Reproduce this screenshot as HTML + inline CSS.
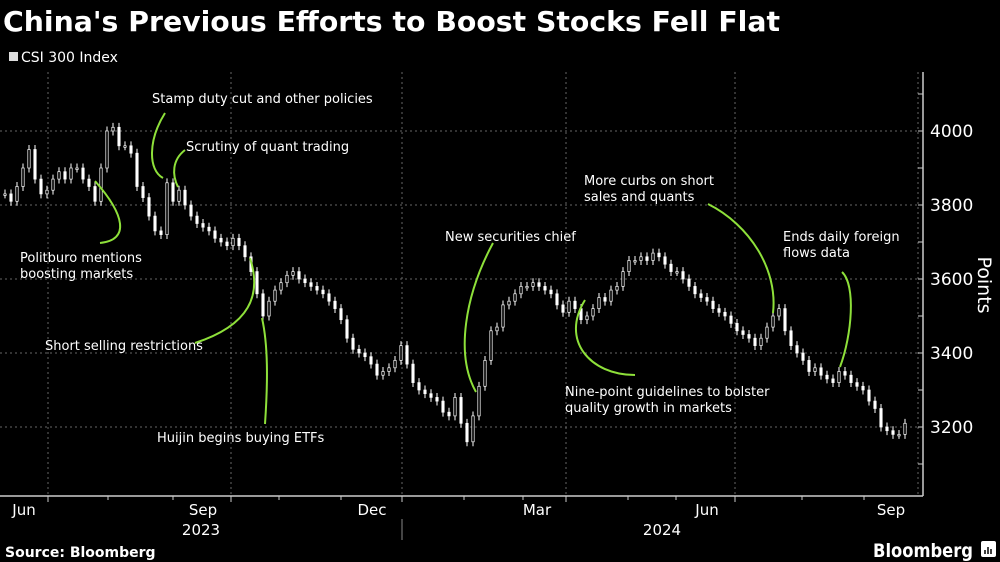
<!DOCTYPE html>
<html><head><meta charset="utf-8"><style>
html,body{margin:0;padding:0;background:#000;}
svg{display:block;}
text{font-family:"DejaVu Sans","Liberation Sans",sans-serif;fill:#fff;}
</style></head><body>
<svg id="chart" width="1000" height="562" viewBox="0 0 1000 562" xmlns="http://www.w3.org/2000/svg">
<rect width="1000" height="562" fill="#000"/>
<text x="3" y="31" font-size="28" font-weight="bold" textLength="777" lengthAdjust="spacingAndGlyphs">China's Previous Efforts to Boost Stocks Fell Flat</text>
<rect x="9" y="52" width="9" height="9" fill="#ddd"/>
<text x="21" y="62" font-size="14" fill="#ddd">CSI 300 Index</text>
<g id="grid"></g>
<g id="candles"></g>
<g id="axes"></g>
<text transform="translate(978,285) rotate(90)" font-size="19" text-anchor="middle">Points</text>
<g fill="none" stroke="#8ee03a" stroke-width="2">
<path d="M100,243 C130,240 125,215 95,181"/>
<path d="M165,113 C148,140 148,170 163,178"/>
<path d="M185,150 C172,160 172,175 178,187"/>
<path d="M195,343 C250,325 262,295 250,258"/>
<path d="M265,424 C268,380 268,345 262,318"/>
<path d="M493,243 C465,295 455,355 476,392"/>
<path d="M708,204 C750,225 778,270 773,313"/>
<path d="M635,375 C590,375 560,340 585,300"/>
<path d="M842,272 C856,285 852,335 840,367"/>
</g>
<g font-size="13">
<text x="20" y="262">Politburo mentions</text>
<text x="20" y="278">boosting markets</text>
<text x="152" y="103">Stamp duty cut and other policies</text>
<text x="186" y="151">Scrutiny of quant trading</text>
<text x="45" y="350">Short selling restrictions</text>
<text x="157" y="442">Huijin begins buying ETFs</text>
<text x="445" y="241">New securities chief</text>
<text x="584" y="185">More curbs on short</text>
<text x="584" y="201">sales and quants</text>
<text x="565" y="396">Nine-point guidelines to bolster</text>
<text x="565" y="412">quality growth in markets</text>
<text x="783" y="241">Ends daily foreign</text>
<text x="783" y="257">flows data</text>
</g>
<text x="5" y="557" font-size="14" font-weight="bold">Source: Bloomberg</text>
<text x="873" y="557" font-size="19" font-weight="bold" font-family="Liberation Sans, sans-serif" textLength="100" lengthAdjust="spacingAndGlyphs">Bloomberg</text>
<rect x="981" y="541" width="15" height="16" rx="2" fill="#fff"/>
<path d="M985,554 v-4 M988,554 v-7 M991,554 v-5" stroke="#000" stroke-width="1.5"/>
</svg>
<script>
const closes = [3830,3810,3850,3900,3950,3870,3830,3840,3870,3890,3870,3900,3900,3870,3850,3810,3900,4000,4010,3960,3960,3940,3850,3820,3770,3730,3720,3860,3810,3840,3800,3770,3750,3740,3730,3710,3700,3690,3710,3690,3660,3620,3560,3500,3540,3570,3590,3610,3620,3600,3590,3580,3570,3560,3540,3520,3490,3440,3410,3400,3390,3370,3340,3350,3360,3380,3420,3370,3320,3300,3290,3280,3270,3240,3230,3280,3210,3160,3230,3310,3380,3460,3470,3530,3540,3560,3580,3580,3590,3580,3570,3560,3530,3510,3540,3520,3490,3500,3520,3550,3540,3570,3580,3620,3650,3650,3660,3650,3670,3660,3640,3620,3620,3600,3580,3560,3550,3540,3520,3510,3500,3480,3460,3450,3440,3420,3440,3470,3500,3520,3460,3420,3400,3380,3350,3360,3340,3330,3320,3350,3340,3320,3310,3300,3270,3250,3200,3190,3180,3180,3210];
const yTicks = [3200,3400,3600,3800,4000];
const yTickLabels = ["3200","3400","3600","3800","4000"];
const monthLabels = ["Jun","Sep","Dec","Mar","Jun","Sep"];
const yearLabels = ["2023","2024"];

const NS="http://www.w3.org/2000/svg";
const X0=5, X1=905, PB=496, AX=923;
function xScale(i){return X0+(X1-X0)*i/(closes.length-1);}
function yScale(v){return 131+(4000-v)*0.37;}
function mk(tag,attrs,parent){const e=document.createElementNS(NS,tag);for(const k in attrs)e.setAttribute(k,attrs[k]);parent.appendChild(e);return e;}
const grid=document.getElementById('grid'), cg=document.getElementById('candles'), ax=document.getElementById('axes');
yTicks.forEach((t,i)=>{
  const y=yScale(t);
  const l=mk('line',{x1:0,x2:AX,y1:y,y2:y,stroke:'#666','stroke-dasharray':'2,3','stroke-width':1},grid);
  
  
  const tx=mk('text',{x:AX+7,y:y+6,'font-size':17},ax);
  tx.textContent=yTickLabels[i];
  
  
});
for(let v=3100;v<=4100;v+=100){
  const y=yScale(v);
  const tk=mk('line',{x1:AX-5,x2:AX,y1:y,y2:y,stroke:'#ccc','stroke-width':1},ax);
  
  
}
[48,231,402,566,735,918].forEach(x=>{
  const g=mk('line',{x1:x,x2:x,y1:72,y2:PB,stroke:'#666','stroke-dasharray':'2,3','stroke-width':1},grid);
  
  
});
[108,173,279,341,464,523,628,676,802,864].forEach(x=>{
  const t=mk('line',{x1:x,x2:x,y1:PB,y2:PB+4,stroke:'#ccc'},ax);
  
  
});
[48,231,402,566,735].forEach(x=>{
  const t=mk('line',{x1:x,x2:x,y1:PB,y2:PB+6,stroke:'#ccc'},ax);
  
  
});
const al=mk('line',{x1:AX,x2:AX,y1:72,y2:PB,stroke:'#ccc','stroke-width':1.5},ax);


const bl=mk('line',{x1:0,x2:AX,y1:PB,y2:PB,stroke:'#ccc','stroke-width':1.5},ax);


[24,203,372,537,707,891].forEach((x,i)=>{
  const t=mk('text',{x:x,y:515,'font-size':15,'text-anchor':'middle'},ax);
  t.textContent=monthLabels[i];
  
  
});
[201,662].forEach((x,i)=>{
  const t=mk('text',{x:x,y:535,'font-size':15,'text-anchor':'middle'},ax);
  t.textContent=yearLabels[i];
  
  
});
const sep=mk('line',{x1:402,x2:402,y1:519,y2:540,stroke:'#888'},ax);


closes.forEach((c,i)=>{
  const o=i>0?closes[i-1]:c;
  const x=xScale(i);
  const hi=Math.max(o,c)+12, lo=Math.min(o,c)-12;
  const w=mk('line',{x1:x,x2:x,y1:yScale(hi),y2:yScale(lo),stroke:'#fff','stroke-width':1},cg);
  
  
  const top=yScale(Math.max(o,c)), h=Math.max(1.5,yScale(Math.min(o,c))-top);
  const up=c>=o;
  const b=mk('rect',{x:x-1.2,y:top,width:2.4,height:h,fill:up?'#000':'#fff',stroke:'#fff','stroke-width':0.7},cg);
  
  
});
</script>
</body></html>
